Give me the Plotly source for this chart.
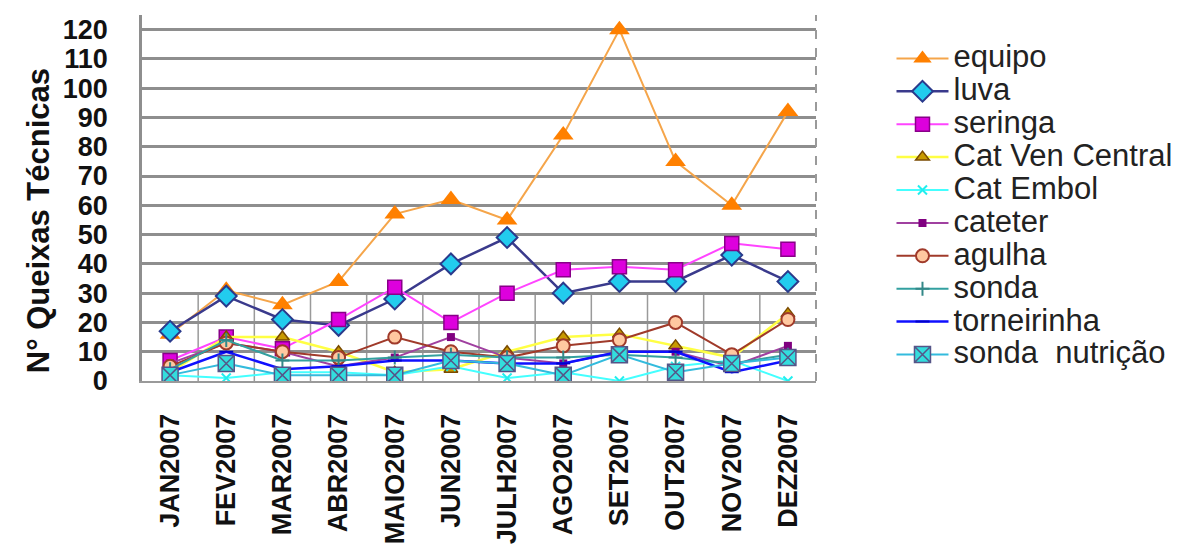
import plotly.graph_objects as go

# Monthly technical complaints per product, 2007
months = ["JAN2007", "FEV2007", "MAR2007", "ABR2007", "MAIO2007", "JUN2007",
          "JULH2007", "AGO2007", "SET2007", "OUT2007", "NOV2007", "DEZ2007"]

equipo = [16, 31, 26, 34, 57, 62, 55, 84, 120, 75, 60, 92]
luva = [17, 29, 21, 19, 28, 40, 49, 30, 34, 34, 43, 34]
seringa = [7, 15, 11, 21, 32, 20, 30, 38, 39, 38, 47, 45]
cat_ven_central = [3, 15, 15, 10, 3, 4, 10, 15, 16, 12, 8, 23]
cat_embol = [2, 1, 3, 3, 2, 5, 1, 3, 0, 5, 7, 0]
cateter = [6, 13, 10, 5, 8, 15, 8, 6, 10, 10, 5, 12]
agulha = [5, 13, 10, 8, 15, 10, 8, 12, 14, 20, 9, 21]
sonda = [4, 14, 7, 7, 8, 9, 8, 8, 9, 8, 6, 9]
torneirinha = [3, 10, 4, 5, 7, 7, 6, 6, 10, 10, 3, 7]
sonda_nutricao = [2, 6, 2, 2, 2, 7, 6, 2, 9, 3, 6, 8]

series = [
    ("equipo", equipo, dict(color="#F5A54A", width=2),
     dict(symbol="triangle-up", size=18, color="#FF8000", line=dict(width=0))),
    ("luva", luva, dict(color="#3A3A8C", width=2.5),
     dict(symbol="diamond", size=16, color="#22CCEE", line=dict(color="#2A3A8C", width=2))),
    ("seringa", seringa, dict(color="#FF44FF", width=2),
     dict(symbol="square", size=14, color="#DD00DD", line=dict(color="#880088", width=1.5))),
    ("Cat Ven Central", cat_ven_central, dict(color="#FFFF44", width=2.5),
     dict(symbol="triangle-up", size=12, color="#C89A00", line=dict(color="#7A4A00", width=1.5))),
    ("Cat Embol", cat_embol, dict(color="#44FFFF", width=2),
     dict(symbol="x-thin", size=9, color="#22EEEE", line=dict(color="#22EEEE", width=2))),
    ("cateter", cateter, dict(color="#A040A0", width=2),
     dict(symbol="square", size=8, color="#800080", line=dict(width=0))),
    ("agulha", agulha, dict(color="#A03A2A", width=2),
     dict(symbol="circle", size=13, color="#FFC8A0", line=dict(color="#A03A2A", width=2))),
    ("sonda", sonda, dict(color="#33A0A0", width=2),
     dict(symbol="cross-thin", size=10, color="#338888", line=dict(color="#338888", width=2))),
    ("torneirinha", torneirinha, dict(color="#1010FF", width=2.5),
     dict(symbol="line-ew", size=10, color="#0000CC", line=dict(color="#0000CC", width=2))),
    ("sonda  nutrição", sonda_nutricao, dict(color="#33BBDD", width=2),
     dict(symbol="square-x", size=16, color="#33DDDD", line=dict(color="#555588", width=1.5))),
]

fig = go.Figure()
for name, values, line, marker in series:
    fig.add_trace(go.Scatter(
        x=months, y=values, mode="lines+markers",
        name='<span style="font-size:31px">' + name + "</span>",
        line=line, marker=marker,
    ))

# short vertical separators between months near the baseline
for i in range(len(months) - 1):
    fig.add_shape(type="line", xref="x", yref="y", x0=i + 0.5, x1=i + 0.5,
                  y0=0, y1=30, line=dict(color="#9A9A9A", width=1.5), layer="below")

# dashed right border of the plot area
fig.add_shape(type="line", xref="paper", yref="paper", x0=1, x1=1, y0=0, y1=1,
              line=dict(color="#9A9A9A", width=2, dash="dash"))

fig.add_annotation(
    text="<b>N° Queixas Técnicas</b>", xref="paper", yref="paper",
    x=-0.154, y=0.437, xanchor="center", yanchor="middle",
    textangle=-90, showarrow=False,
    font=dict(family="Liberation Sans, Arial", size=31, color="#111111"),
)

fig.update_layout(
    width=1190, height=545,
    margin=dict(l=142, r=374, t=15, b=164, autoexpand=False),
    paper_bgcolor="white", plot_bgcolor="white",
    font=dict(family="Liberation Sans, Arial", color="#111111"),
    legend=dict(
        x=1.112, y=0.94, xanchor="left", yanchor="top",
        font=dict(size=23, color="#222222"), itemwidth=52,
        bgcolor="rgba(0,0,0,0)",
    ),
    xaxis=dict(
        type="category", range=[-0.5, 11.5], tickangle=-90, automargin=False,
        showgrid=False, showline=True, linecolor="#9A9A9A", linewidth=2,
        ticks="", ticklabelstandoff=20,
        tickfont=dict(size=27, family="Liberation Sans, Arial", color="#111111"),
        tickprefix="<b>", ticksuffix="</b>",
    ),
    yaxis=dict(
        range=[0, 125], dtick=10, tick0=0, automargin=False,
        showgrid=True, gridcolor="#8E8E8E", gridwidth=2.5,
        showline=True, linecolor="#8E8E8E", linewidth=2.5,
        zeroline=False, ticks="", ticklabelstandoff=26,
        tickfont=dict(size=27, family="Liberation Sans, Arial", color="#111111"),
        tickprefix="<b>", ticksuffix="</b>",
    ),
)

fig.write_html("out.html")
